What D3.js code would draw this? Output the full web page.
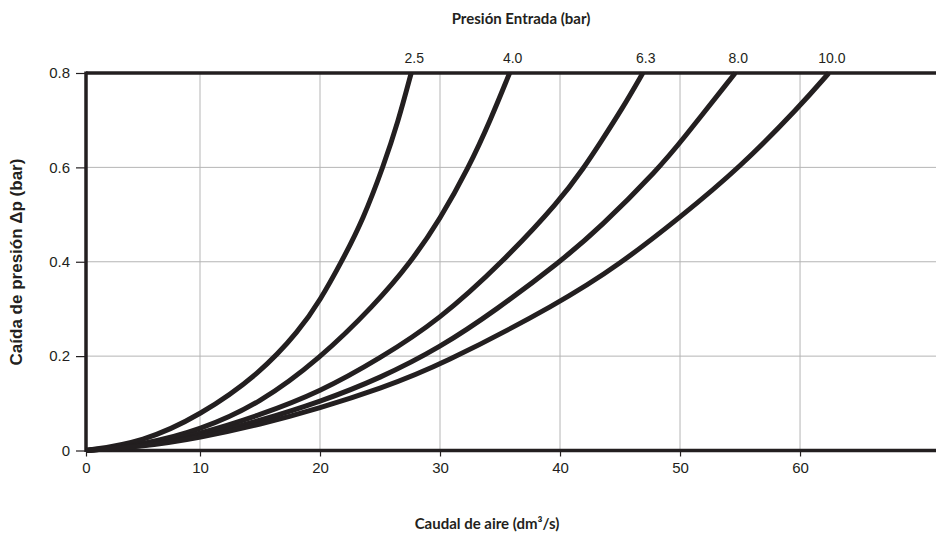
<!DOCTYPE html>
<html><head><meta charset="utf-8">
<script src="https://cdn.jsdelivr.net/npm/d3@7"></script>
<style>body{margin:0;background:#fff}svg{display:block}</style>
</head><body>
<script>
const xTicks = [0, 10, 20, 30, 40, 50, 60];
const yTicks = [0, 0.2, 0.4, 0.6, 0.8];
const yTickLabels = ["0", "0.2", "0.4", "0.6", "0.8"];
const seriesNames = ["2.5", "4.0", "6.3", "8.0", "10.0"];
const s25x = [0, 5, 10, 15, 18.3, 20, 21.8, 23.6, 25.3, 26.5, 27.6];
const s25y = [0, 0.018, 0.074, 0.163, 0.255, 0.318, 0.4, 0.49, 0.604, 0.696, 0.8];
const s40x = [0, 5, 10, 15, 20, 24.5, 27.6, 30, 32.4, 34.2, 35.8];
const s40y = [0, 0.012, 0.043, 0.1, 0.195, 0.307, 0.4, 0.49, 0.6, 0.7, 0.8];
const s63x = [0, 5, 10, 15, 20, 25, 29.9, 35.25, 40, 42, 43.3, 45.2, 46.9];
const s63y = [0, 0.01, 0.035, 0.075, 0.124, 0.195, 0.276, 0.4, 0.53, 0.6, 0.65, 0.725, 0.8];
const s80x = [0, 5, 10, 15, 20, 25, 30, 34.7, 40, 43.3, 48.3, 50, 54.6];
const s80y = [0, 0.009, 0.03, 0.063, 0.103, 0.153, 0.218, 0.298, 0.4, 0.471, 0.6, 0.652, 0.8];
const s100x = [0, 5, 10, 15, 20, 25, 30, 40, 45, 50, 55, 60, 62.4];
const s100y = [0, 0.008, 0.027, 0.055, 0.09, 0.131, 0.18, 0.313, 0.395, 0.494, 0.6, 0.73, 0.8];
const seriesX = [s25x, s40x, s63x, s80x, s100x];
const seriesY = [s25y, s40y, s63y, s80y, s100y];

const W = 936, H = 538;
const svg = d3.select("body").append("svg").attr("width", W).attr("height", H);

const x = d3.scaleLinear().domain([0, 10, 71.33]).range([86, 200, 936]);
const y = d3.scaleLinear().domain([0, 0.8]).range([450.5, 73]);
const ink = "#231f20";

// grid
const g = svg.append("g");
g.selectAll(".vg").data(xTicks.filter(d => d > 0)).join("line")
  .attr("x1", d => x(d)).attr("x2", d => x(d)).attr("y1", y(0)).attr("y2", y(0.8))
  .attr("stroke", "#b5b5b5").attr("stroke-width", 1);
g.selectAll(".hg").data(yTicks.filter(d => d > 0 && d < 0.8)).join("line")
  .attr("x1", x(0)).attr("x2", W).attr("y1", d => y(d)).attr("y2", d => y(d))
  .attr("stroke", "#b5b5b5").attr("stroke-width", 1);

// axes
const xAxis = d3.axisBottom(x).tickValues(xTicks).tickSize(6).tickPadding(6).tickFormat(d3.format("d"));
const gx = svg.append("g").attr("transform", `translate(0,${y(0)})`).call(xAxis);
gx.select(".domain").remove();
gx.selectAll(".tick line").attr("stroke", ink).attr("stroke-width", 1.2);
gx.selectAll(".tick text").attr("fill", ink).style("font-family", "'Liberation Sans', Arial, sans-serif").style("font-size", "15px");

const yAxis = d3.axisLeft(y).tickValues(yTicks).tickSize(10).tickPadding(6).tickFormat((d, i) => yTickLabels[i]);
const gy = svg.append("g").attr("transform", `translate(${x(0)},0)`).call(yAxis);
gy.select(".domain").remove();
gy.selectAll(".tick line").attr("stroke", ink).attr("stroke-width", 1.2);
gy.selectAll(".tick text").attr("fill", ink).style("font-family", "'Liberation Sans', Arial, sans-serif").style("font-size", "15px");

// frame lines
svg.append("line").attr("x1", x(0)).attr("x2", W).attr("y1", y(0)).attr("y2", y(0)).attr("stroke", ink).attr("stroke-width", 3.5);
svg.append("line").attr("x1", x(0)).attr("x2", W).attr("y1", y(0.8)).attr("y2", y(0.8)).attr("stroke", ink).attr("stroke-width", 3.5);
svg.append("line").attr("x1", x(0)).attr("x2", x(0)).attr("y1", y(0) + 1.5).attr("y2", y(0.8) - 1.5).attr("stroke", ink).attr("stroke-width", 3.5);

// curves
const line = d3.line().x(d => x(d[0])).y(d => y(d[1])).curve(d3.curveBasis);
seriesX.forEach((xs, i) => {
  const pts = xs.map((v, j) => [v, seriesY[i][j]]);
  svg.append("path").attr("d", line(pts)).attr("fill", "none")
    .attr("stroke", ink).attr("stroke-width", 5).attr("stroke-linecap", "butt");
  const last = pts[pts.length - 1];
  svg.append("text").attr("x", x(last[0]) + 3).attr("y", y(0.8) - 10)
    .attr("text-anchor", "middle").attr("fill", ink)
    .style("font-family", "'Liberation Sans', Arial, sans-serif").style("font-size", "14px")
    .text(seriesNames[i]);
});

// titles
svg.append("text").attr("x", 521).attr("y", 24).attr("text-anchor", "middle").attr("fill", ink)
  .style("font-family", "Lato, 'Noto Sans', sans-serif").style("font-size", "15px").style("font-weight", "bold")
  .text("Presión Entrada (bar)");
svg.append("text").attr("x", 487).attr("y", 529).attr("text-anchor", "middle").attr("fill", ink)
  .style("font-family", "Lato, 'Noto Sans', sans-serif").style("font-size", "15px").style("font-weight", "bold")
  .text("Caudal de aire (dm³/s)");
svg.append("text").attr("transform", "translate(22,262) rotate(-90)").attr("text-anchor", "middle").attr("fill", ink)
  .style("font-family", "'Liberation Sans', Arial, sans-serif").style("font-size", "17px").style("font-weight", "bold")
  .text("Caída de presión Δp (bar)");
</script>
</body></html>
